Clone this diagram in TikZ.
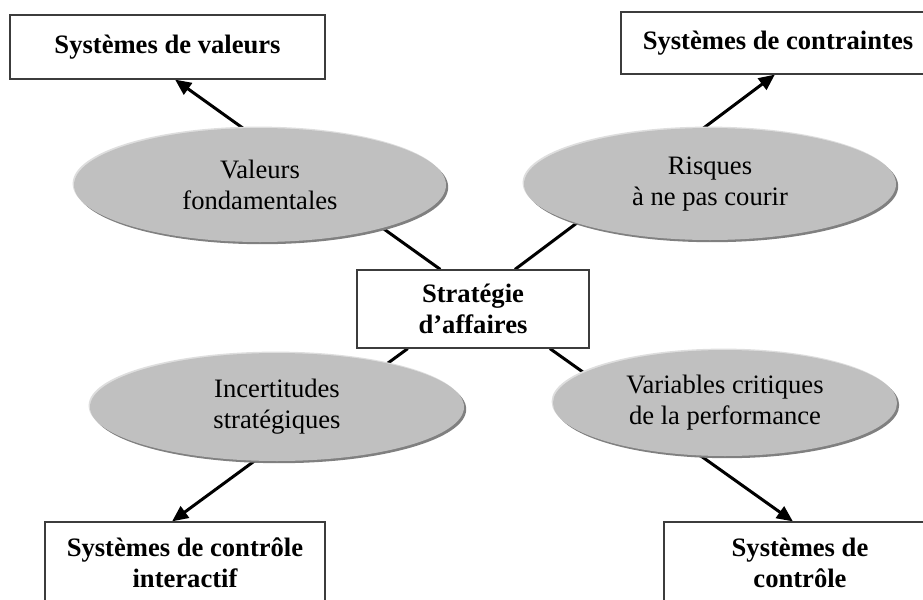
\documentclass[tikz,border=0pt]{standalone}
\usepackage{fontspec}
\setmainfont{Liberation Serif}
\definecolor{ovalgray}{RGB}{192, 192, 192}
\definecolor{rimdark}{RGB}{128, 128, 128}
\definecolor{rimlight}{RGB}{222, 222, 222}
\definecolor{boxline}{RGB}{60, 60, 60}
\usetikzlibrary{shapes.geometric, arrows.meta, calc, shadows, backgrounds}

\begin{document}
\begin{tikzpicture}[x=0.5pt, y=-0.5pt,
  every node/.style={font=\fontsize{13.3}{15.5}\selectfont, align=center, inner sep=0pt},
  sysbox/.style={draw=boxline, line width=0.6pt, fill=white, font=\fontsize{13.3}{15.5}\selectfont\bfseries},
  oval/.style={ellipse, fill=ovalgray,
    general shadow={fill=rimdark, shadow xshift=1.1pt, shadow yshift=-1.1pt},
    general shadow={fill=rimlight, shadow xshift=-0.7pt, shadow yshift=0.7pt}},
  link/.style={line width=1.5pt, -{Triangle[length=8pt, width=7pt]}}]
  \useasboundingbox (0,0) rectangle (923,600);
  % systemes
  \node[sysbox, minimum width=157.5pt, minimum height=32pt] (valeurs) at (167.5,47) {Systèmes de valeurs};
  \node[sysbox, minimum width=157pt, minimum height=31pt] (contraintes) at (778,43) {Systèmes de contraintes};
  \node[sysbox, minimum width=116pt, minimum height=39pt] (strat) at (473,309) {Stratégie\\d’affaires};
  \node[sysbox, minimum width=140pt, minimum height=41pt] (interactif) at (185,563) {Systèmes de contrôle\\interactif};
  \node[sysbox, minimum width=136pt, minimum height=41pt] (controle) at (800,563) {Systèmes de\\contrôle};
  % leviers
  \begin{scope}[on background layer]
    \draw[link] ($(strat.north west)!0.36!(strat.north east)$) -- ($(valeurs.south west)!0.524!(valeurs.south east)$);
    \draw[link] ($(strat.north west)!0.68!(strat.north east)$) -- ($(contraintes.south west)!0.49!(contraintes.south east)$);
    \draw[link] ($(strat.south west)!0.22!(strat.south east)$) -- ($(interactif.north west)!0.454!(interactif.north east)$);
    \draw[link] ($(strat.south west)!0.83!(strat.south east)$) -- ($(controle.north west)!0.474!(controle.north east)$);
  \end{scope}
  \node[oval, minimum width=186pt, minimum height=57pt] (fondam) at (260,185) {Valeurs\\fondamentales};
  \node[oval, minimum width=186pt, minimum height=56pt] (risques) at (710,184) {Risques\\à ne pas courir};
  \node[oval, minimum width=187pt, minimum height=54pt] (incert) at (277,407) {Incertitudes\\stratégiques};
  \node[oval, minimum width=172pt, minimum height=53pt] (varcrit) at (725,403) {Variables critiques\\de la performance};
\end{tikzpicture}
\end{document}
